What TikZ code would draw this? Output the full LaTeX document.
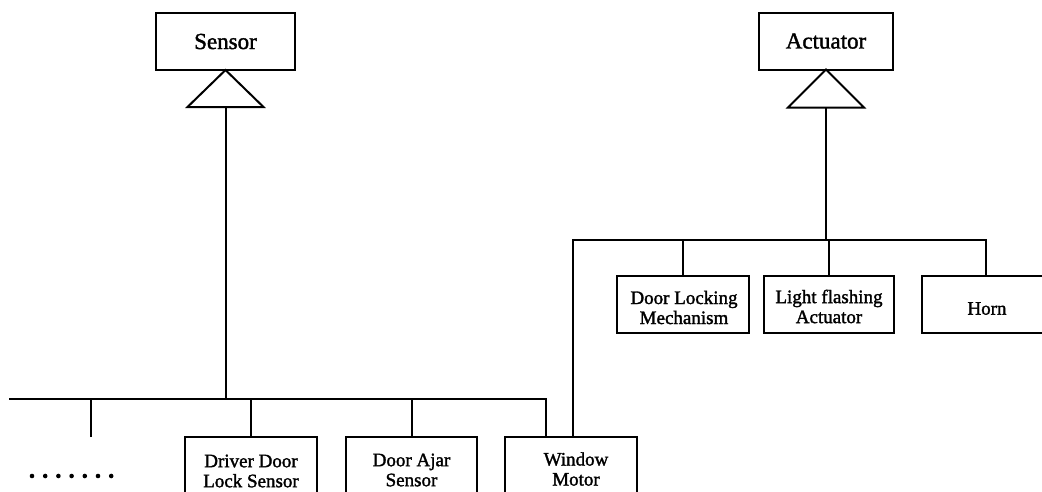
\documentclass[tikz,border=0pt]{standalone}
\usepackage{fontspec}
\setmainfont{Liberation Serif}[FakeBold=1.6]
\usetikzlibrary{calc}
\begin{document}
\begin{tikzpicture}[x=1pt,y=-1pt,
  line width=2pt, line join=miter,
  topbox/.style={draw, minimum height=57pt, inner sep=0pt, outer sep=0pt,
    font=\fontsize{23}{24}\selectfont},
  midbox/.style={draw, minimum height=57pt, inner sep=0pt, outer sep=0pt},
  lowbox/.style={draw, minimum height=100pt, anchor=north, inner sep=0pt, outer sep=0pt},
  lbl/.style={align=center, inner sep=0pt, font=\fontsize{19}{20}\selectfont},
  dotmark/.style={fill=black, draw=none}]
\useasboundingbox (0,0) rectangle (1042,491);
\clip (0,0) rectangle (1042,491);

% --- superclasses with generalisation triangles ---
\node[topbox, minimum width=139pt] (sensor) at (225.5,41.5) {Sensor};
\node[topbox, minimum width=134pt] (actuator) at (826,41) {Actuator};
\draw (sensor.south) -- ++(38,37) -- ++(-76,0) -- cycle;
\draw (actuator.south) -- ++(38,38) -- ++(-76,0) -- cycle;
\coordinate (sensor-base) at ($(sensor.south)+(0,37)$);
\coordinate (actuator-base) at ($(actuator.south)+(0,38)$);

% --- actuator subclasses ---
\node[midbox, minimum width=132pt] (lock) at (683,304.5) {};
\node[midbox, minimum width=130pt] (flash) at (829,304.5) {};
\node[midbox, minimum width=128pt] (horn) at (986,304.5) {};
\node[lbl] (lock-t) at ($(lock.center)+(1,3)$) {Door Locking\\Mechanism};
\node[lbl] (flash-t) at ($(flash.center)+(0,2)$) {Light flashing\\Actuator};
\node[lbl] (horn-t) at ($(horn.center)+(1,4)$) {Horn};

% --- sensor subclasses (cut off at the bottom) ---
\node[lowbox, minimum width=132pt] (driver) at (251,437) {};
\node[lowbox, minimum width=131pt] (ajar) at (411.5,437) {};
\node[lowbox, minimum width=132pt] (window) at (571,437) {};
\node[lbl] (driver-t) at ($(driver.north)+(0,34)$) {Driver Door\\Lock Sensor};
\node[lbl] (ajar-t) at ($(ajar.north)+(0,33)$) {Door Ajar\\Sensor};
\node[lbl] (window-t) at ($(window.north)+(5,32)$) {Window\\Motor};

% --- sensor bus ---
\coordinate (sbus-left) at (9,399);
\coordinate (stub) at (91,437);
\coordinate (win-s) at ($(window.north)+(-25,0)$);
\coordinate (win-a) at ($(window.north)+(2,0)$);
\draw (sensor-base) -- (sensor-base |- sbus-left);
\draw (sbus-left) -| (win-s);
\draw (stub) -- (stub |- sbus-left);
\draw (driver.north) -- (driver.north |- sbus-left);
\draw (ajar.north) -- (ajar.north |- sbus-left);

% --- actuator bus ---
\coordinate (abus) at (0,240);
\draw (actuator-base) -- (actuator-base |- abus);
\draw (win-a) |- (abus -| horn.north) -- (horn.north);
\draw (lock.north) -- (lock.north |- abus);
\draw (flash.north) -- (flash.north |- abus);

% --- ellipsis of further sensors ---
\foreach \i in {0,...,6}
  \fill[dotmark] (32+13.2*\i,476) circle (2.3pt);
\end{tikzpicture}
\end{document}
